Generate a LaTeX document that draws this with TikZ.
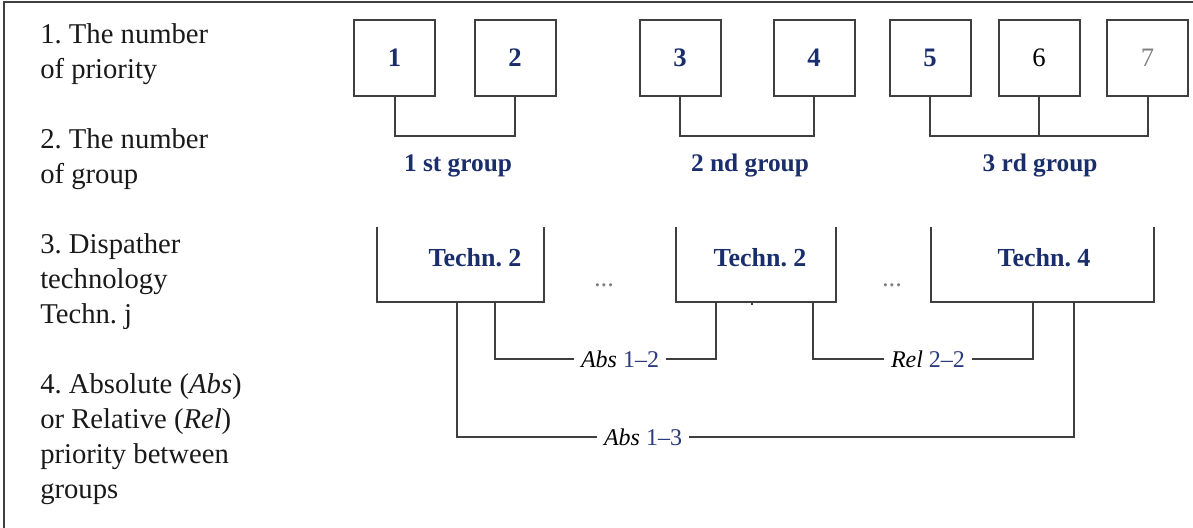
\documentclass[tikz,border=0pt]{standalone}
\usepackage{fontspec}
\setmainfont{Liberation Serif}
\frenchspacing
\definecolor{navy}{HTML}{1B2E6C}
\definecolor{labblue}{HTML}{2A3A7C}
\definecolor{linegray}{HTML}{3F3F3F}

\begin{document}
\begin{tikzpicture}[x=0.75pt,y=-0.75pt]
  % some styles
  \tikzset{
    prio/.style={
      draw=linegray,
      line width=1.5pt,
      minimum width=60.75pt,
      minimum height=57pt,
      inner sep=0pt,
      font=\fontsize{20}{24}\selectfont
    },
    conn/.style={draw=linegray, line width=1.5pt},
    grp/.style={text=navy, font=\bfseries\fontsize{19}{23}\selectfont},
    techbox/.style={minimum width=125.25pt, minimum height=56.25pt, inner sep=0pt, outer sep=0pt},
    tech/.style={text=navy, font=\bfseries\fontsize{19.5}{23}\selectfont},
    lab/.style={fill=white, inner sep=5pt, font=\fontsize{18}{22}\selectfont},
    dots/.style={text=gray, font=\fontsize{20}{22}\selectfont}
  }

\useasboundingbox (0,0) rectangle (1193,528);
\draw[linegray, line width=1.1pt] (4,528) -- (4,2) -- (1193,2);

% legend
\node[anchor=north west, align=left, inner sep=0pt, text=black!90,
      font=\fontsize{21.5}{26.25}\selectfont] (legend) at (40,23)
  {1. The number\\of priority\\[26.25pt]2. The number\\of group\\[26.25pt]3. Dispather\\technology\\Techn. j\\[26.25pt]4. Absolute (\textit{Abs})\\or Relative (\textit{Rel})\\priority between\\groups};

% priorities
\foreach \n/\x in {1/394.5, 2/515, 3/680, 4/814, 5/930}
    \node[prio, text=navy, font=\bfseries\fontsize{20}{24}\selectfont] (p\n) at (\x,58) {\n};
\node[prio] (p6) at (1039,58) {6};
\node[prio, text=gray] (p7) at (1147.5,58) {7};

\draw[conn] (p1.south) -- ++(0,39) -| (p2.south);
\draw[conn] (p3.south) -- ++(0,39) -| (p4.south);
\draw[conn] (p5.south) -- ++(0,39) -| (p7.south);
\draw[conn] (p6.south) -- ++(0,39);

\node[grp] (g1) at (458,166) {1 st group};
\node[grp] (g2) at (750,166) {2 nd group};
\node[grp] (g3) at (1040,166) {3 rd group};

% technologies
\node[techbox] (t1) at (460.5,264.5) {};
\node[techbox, minimum width=120pt] (t2) at (756,264.5) {};
\node[techbox, minimum width=167.25pt] (t3) at (1042.5,264.5) {};
\foreach \t in {t1,t2,t3}
    \draw[conn] (\t.north west) |- (\t.south east) -- (\t.north east);

\node[tech] (n1) at (475,258) {Techn. 2};
\node[tech] (n2) at (760,258) {Techn. 2};
\node[tech] (n3) at (1044,258) {Techn. 4};

\node[dots] (d1) at (604,285) {...};
\node[dots] (d2) at (892,285) {...};
\draw[conn, line width=1pt] (752,0 |- t2.south) -- ++(0,3);

% priority between groups
\draw[conn] (495,0 |- t1.south) |- (716,359) -- (716,0 |- t2.south);
\draw[conn] (813,0 |- t2.south) |- (1033,359) -- (1033,0 |- t3.south);
\draw[conn] (457,0 |- t1.south) |- (1074,437) -- (1074,0 |- t3.south);

\node[lab] (a12) at (620,359) {\textit{Abs} \textcolor{labblue}{1–2}};
\node[lab] (r22) at (928,359) {\textit{Rel} \textcolor{labblue}{2–2}};
\node[lab] (a13) at (643,437) {\textit{Abs} \textcolor{labblue}{1–3}};

\end{tikzpicture}
\end{document}
